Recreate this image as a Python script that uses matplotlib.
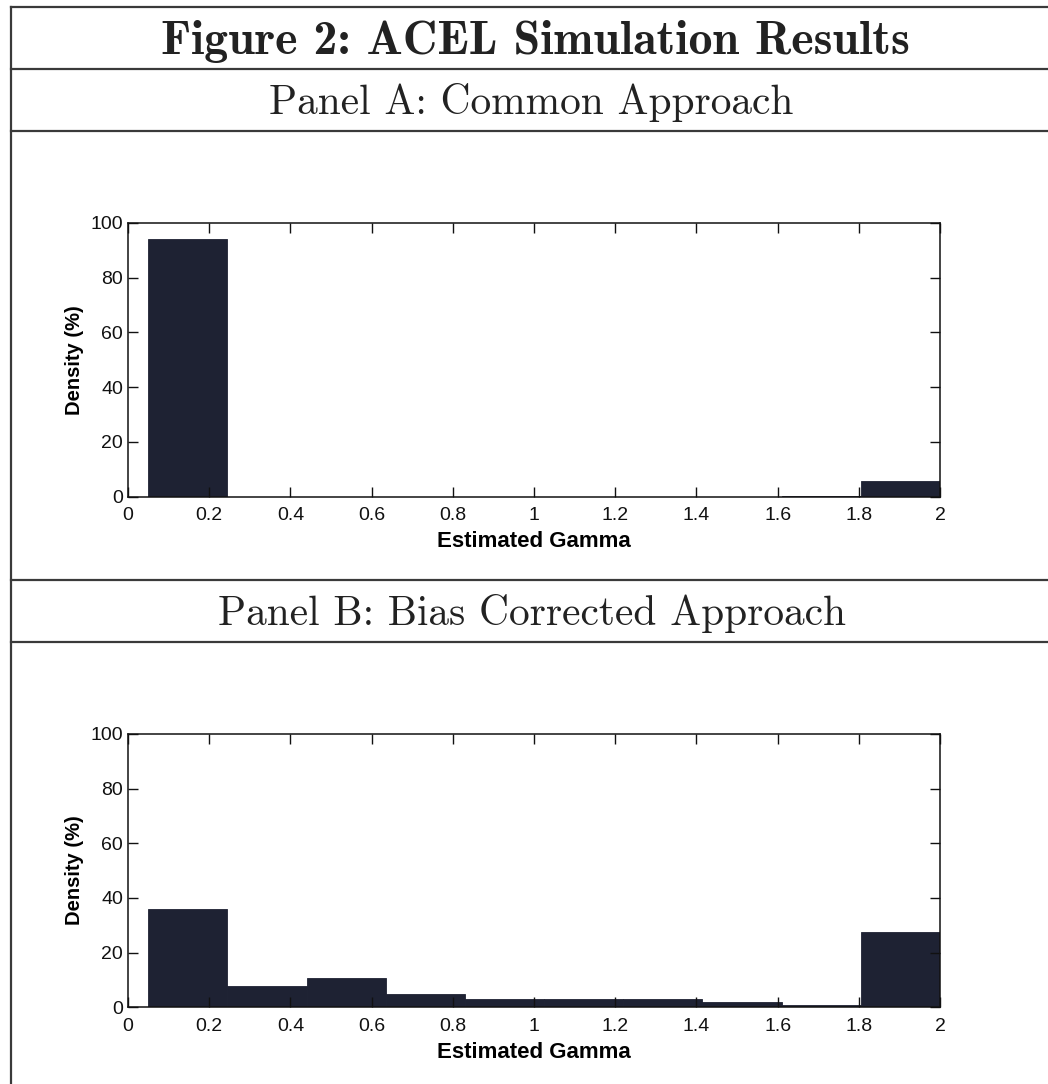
import numpy as np
import matplotlib.pyplot as plt
from matplotlib.lines import Line2D

# histogram bins (10 equal bins between min and max estimate)
bin_edges = np.linspace(0.05, 2.0, 11)
common_density = [94.0, 0.0, 0.0, 0.0, 0.0, 0.0, 0.0, 0.0, 0.3, 5.8]
bias_corrected_density = [36.0, 7.9, 10.8, 4.8, 3.1, 3.0, 3.0, 1.8, 0.7, 27.5]

x_ticks = [0, 0.2, 0.4, 0.6, 0.8, 1, 1.2, 1.4, 1.6, 1.8, 2]
x_ticklabels = ["0", "0.2", "0.4", "0.6", "0.8", "1", "1.2", "1.4", "1.6", "1.8", "2"]
y_ticks = [0, 20, 40, 60, 80, 100]

fig_title = "Figure 2: ACEL Simulation Results"
panel_titles = ["Panel A: Common Approach", "Panel B: Bias Corrected Approach"]

bar_color = "#1e2233"
rule_color = "#3a3a3a"

W, H = 1048, 1084
fig = plt.figure(figsize=(W / 100, H / 100), dpi=100)
plt.rcParams["font.family"] = ["Liberation Sans", "DejaVu Sans"]


def fy(py):
    return 1 - py / H


# frame rules
for py in [7, 69, 131, 580, 642]:
    fig.add_artist(Line2D([11 / W, 1], [fy(py), fy(py)], color=rule_color, lw=1.6))
fig.add_artist(Line2D([11 / W, 11 / W], [fy(7), 0], color=rule_color, lw=1.6))

fig.text(535 / W, fy(54), fig_title, family="cmb10", fontsize=34.5,
         ha="center", va="baseline", color="#222222")
fig.text(531 / W, fy(114), panel_titles[0], family="cmr10", fontsize=29.8,
         ha="center", va="baseline", color="#222222")
fig.text(532 / W, fy(625), panel_titles[1], family="cmr10", fontsize=29.8,
         ha="center", va="baseline", color="#222222")


def draw_hist(ax, heights):
    widths = np.diff(bin_edges)
    ax.bar(bin_edges[:-1], heights, width=widths, align="edge",
           color=bar_color, edgecolor=bar_color, linewidth=0.6)
    ax.set_xlim(0, 2)
    ax.set_ylim(0, 100)
    ax.set_xticks(x_ticks)
    ax.set_xticklabels(x_ticklabels)
    ax.set_yticks(y_ticks)
    ax.tick_params(direction="in", top=True, right=True, length=7,
                   width=1, labelsize=14, colors="#111111")
    ax.tick_params(axis="x", pad=7.5)
    ax.tick_params(axis="y", pad=3.5)
    for sp in ax.spines.values():
        sp.set_linewidth(1.1)
        sp.set_color("#111111")
    ax.set_xlabel("Estimated Gamma", fontsize=16, fontweight="bold", labelpad=5)
    ax.set_ylabel("Density (%)", fontsize=14.5, fontweight="bold", labelpad=5)


ax_a = fig.add_axes([128 / W, fy(496.5), 812 / W, 273.5 / H])
draw_hist(ax_a, common_density)

ax_b = fig.add_axes([128 / W, fy(1007.3), 812 / W, 273.5 / H])
draw_hist(ax_b, bias_corrected_density)

fig.savefig("out.png", dpi=100, facecolor="white")
